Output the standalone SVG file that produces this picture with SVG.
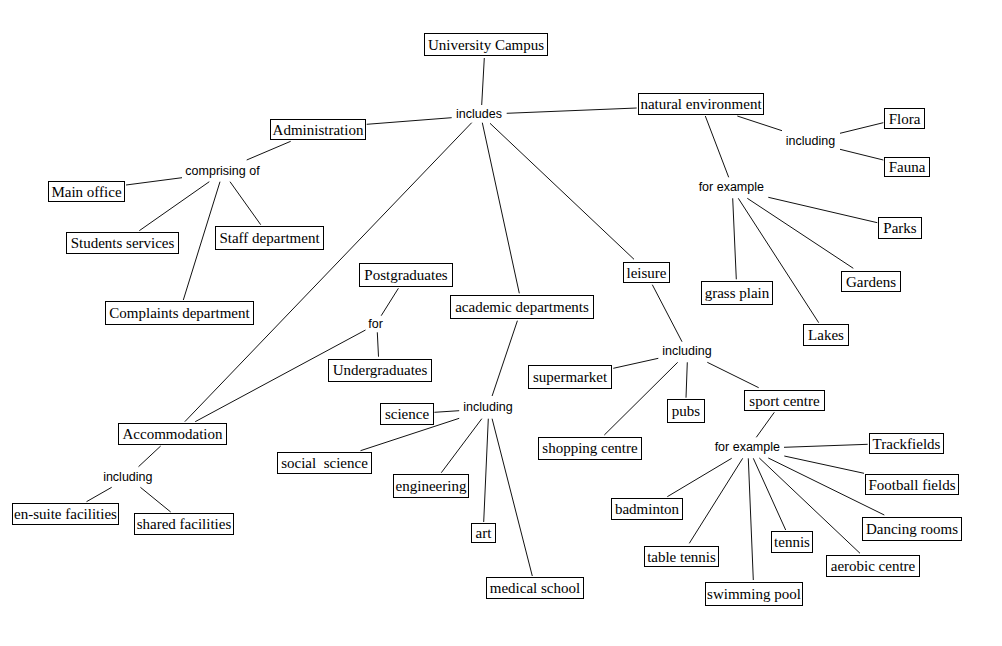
<svg xmlns="http://www.w3.org/2000/svg" width="1002" height="646" viewBox="0 0 1002 646">
<style>
.b rect{fill:#fff;stroke:#000;stroke-width:1}
.b text{font-family:"Liberation Serif","Times New Roman",serif;font-size:15px;fill:#000;text-anchor:middle}
.l text{font-family:"Liberation Sans",Arial,sans-serif;font-size:12.5px;fill:#000;text-anchor:middle}
#connectors line{stroke:#111;stroke-width:1}
</style>
<rect width="1002" height="646" fill="#fff"/>
<g id="connectors">
<line x1="484.3" y1="58" x2="481.7" y2="105"/>
<line x1="451.7" y1="117.7" x2="366.7" y2="124.3"/>
<line x1="506.7" y1="113.3" x2="636.7" y2="108"/>
<line x1="471.7" y1="122.7" x2="184.8" y2="421.7"/>
<line x1="482.3" y1="122.7" x2="519.3" y2="293.3"/>
<line x1="490" y1="123.3" x2="634" y2="259.3"/>
<line x1="290.7" y1="141.3" x2="246.7" y2="160"/>
<line x1="182" y1="177.7" x2="126" y2="185"/>
<line x1="209.3" y1="181.7" x2="139.3" y2="230.7"/>
<line x1="220" y1="181.7" x2="183.3" y2="300"/>
<line x1="230" y1="181.7" x2="260.7" y2="224.7"/>
<line x1="737.3" y1="116" x2="782" y2="130.7"/>
<line x1="840" y1="133.3" x2="883.3" y2="122.7"/>
<line x1="840" y1="149.3" x2="883.3" y2="160"/>
<line x1="705.3" y1="116" x2="728.7" y2="177.3"/>
<line x1="732.7" y1="198.3" x2="736.3" y2="279.3"/>
<line x1="738.3" y1="198.3" x2="818.7" y2="322.7"/>
<line x1="747.3" y1="198.3" x2="853.3" y2="268.3"/>
<line x1="768.3" y1="197.3" x2="877.3" y2="222.7"/>
<line x1="652.3" y1="284.7" x2="682" y2="341.7"/>
<line x1="658.3" y1="358.3" x2="613.3" y2="368.3"/>
<line x1="677.7" y1="362.3" x2="604.3" y2="435"/>
<line x1="687.3" y1="362.3" x2="686" y2="397.7"/>
<line x1="707.3" y1="362.3" x2="758.7" y2="387.7"/>
<line x1="774.3" y1="412.3" x2="756.3" y2="437.3"/>
<line x1="784" y1="447.3" x2="867.7" y2="444.3"/>
<line x1="784.3" y1="456" x2="864" y2="473.3"/>
<line x1="768.3" y1="458" x2="884.3" y2="515"/>
<line x1="759.3" y1="458" x2="860" y2="553.3"/>
<line x1="753.3" y1="458.3" x2="785.7" y2="530"/>
<line x1="748.3" y1="458.3" x2="753.3" y2="580"/>
<line x1="742.7" y1="458.3" x2="689.3" y2="543.3"/>
<line x1="731.7" y1="458.3" x2="667.3" y2="496.7"/>
<line x1="398.4" y1="288.3" x2="381.2" y2="315.7"/>
<line x1="377.3" y1="332.3" x2="378.5" y2="356.7"/>
<line x1="365.5" y1="330" x2="195.2" y2="421.7"/>
<line x1="160.7" y1="446" x2="138.5" y2="466.7"/>
<line x1="111.7" y1="487.3" x2="86.5" y2="501.7"/>
<line x1="140.4" y1="487.3" x2="170.7" y2="512"/>
<line x1="517.4" y1="320.7" x2="492.1" y2="396"/>
<line x1="434.4" y1="412.3" x2="459.2" y2="410.7"/>
<line x1="459.2" y1="418.3" x2="360.5" y2="450.7"/>
<line x1="481.8" y1="418.7" x2="441.3" y2="472.7"/>
<line x1="488.3" y1="418.7" x2="483.7" y2="522"/>
<line x1="492.1" y1="418.7" x2="532.3" y2="576"/>
</g>
<g class="l">
<g id="lbl-includes"><text x="479" y="117.5">includes</text></g>
<g id="lbl-comprising"><text x="222.5" y="174.5">comprising of</text></g>
<g id="lbl-ne-including"><text x="810.5" y="144.5">including</text></g>
<g id="lbl-ne-forexample"><text x="731.3" y="191.2">for example</text></g>
<g id="lbl-for"><text x="375.6" y="327.8">for</text></g>
<g id="lbl-acc-including"><text x="127.8" y="480.5">including</text></g>
<g id="lbl-acad-including"><text x="488" y="411.2">including</text></g>
<g id="lbl-leis-including"><text x="687" y="355.2">including</text></g>
<g id="lbl-sport-forexample"><text x="747.3" y="451.2">for example</text></g>
</g>
<g class="b">
<g id="n-campus"><rect x="424.5" y="33.5" width="123" height="22"/><text x="486" y="49.5">University Campus</text></g>
<g id="n-admin"><rect x="270.5" y="119.5" width="95" height="20"/><text x="318" y="134.5">Administration</text></g>
<g id="n-natural"><rect x="638.5" y="93.5" width="125" height="21"/><text x="701" y="108.5">natural environment</text></g>
<g id="n-mainoffice"><rect x="48.5" y="181.5" width="76" height="20"/><text x="86.5" y="196.5">Main office</text></g>
<g id="n-students"><rect x="66.5" y="232.5" width="112" height="21"/><text x="122.5" y="248">Students services</text></g>
<g id="n-staff"><rect x="215.5" y="226.5" width="108" height="23"/><text x="269.5" y="242.5">Staff department</text></g>
<g id="n-complaints"><rect x="105.5" y="301.5" width="148" height="23"/><text x="179.5" y="317.5">Complaints department</text></g>
<g id="n-postgrad"><rect x="359.5" y="263.5" width="93" height="23"/><text x="406" y="279.5">Postgraduates</text></g>
<g id="n-undergrad"><rect x="328.5" y="359.5" width="103" height="22"/><text x="380" y="375">Undergraduates</text></g>
<g id="n-academic"><rect x="450.5" y="295.5" width="143" height="23"/><text x="522" y="311.5">academic departments</text></g>
<g id="n-leisure"><rect x="623.5" y="262.5" width="46" height="20"/><text x="646.5" y="277.5">leisure</text></g>
<g id="n-flora"><rect x="884.5" y="108.5" width="40" height="20"/><text x="904.5" y="123.5">Flora</text></g>
<g id="n-fauna"><rect x="884.5" y="157.5" width="45" height="19"/><text x="907" y="172">Fauna</text></g>
<g id="n-parks"><rect x="878.5" y="217.5" width="43" height="21"/><text x="900" y="233">Parks</text></g>
<g id="n-gardens"><rect x="841.5" y="271.5" width="59" height="20"/><text x="871" y="286.5">Gardens</text></g>
<g id="n-grass"><rect x="701.5" y="281.5" width="71" height="23"/><text x="737" y="297.5">grass plain</text></g>
<g id="n-lakes"><rect x="803.5" y="324.5" width="45" height="21"/><text x="826" y="340">Lakes</text></g>
<g id="n-supermarket"><rect x="528.5" y="365.5" width="83" height="23"/><text x="570" y="381.5">supermarket</text></g>
<g id="n-shopping"><rect x="538.5" y="437.5" width="103" height="22"/><text x="590" y="453">shopping centre</text></g>
<g id="n-pubs"><rect x="667.5" y="399.5" width="37" height="23"/><text x="686" y="415.5">pubs</text></g>
<g id="n-sport"><rect x="744.5" y="390.5" width="80" height="20"/><text x="784.5" y="405.5">sport centre</text></g>
<g id="n-trackfields"><rect x="869.5" y="433.5" width="74" height="20"/><text x="906.5" y="448.5">Trackfields</text></g>
<g id="n-football"><rect x="865.5" y="474.5" width="93" height="20"/><text x="912" y="489.5">Football fields</text></g>
<g id="n-dancing"><rect x="862.5" y="517.5" width="99" height="23"/><text x="912" y="533.5">Dancing rooms</text></g>
<g id="n-aerobic"><rect x="826.5" y="555.5" width="93" height="21"/><text x="873" y="571">aerobic centre</text></g>
<g id="n-tennis"><rect x="771.5" y="531.5" width="41" height="21"/><text x="792" y="547">tennis</text></g>
<g id="n-swimming"><rect x="705.5" y="582.5" width="97" height="23"/><text x="754" y="598.5">swimming pool</text></g>
<g id="n-tabletennis"><rect x="644.5" y="546.5" width="74" height="20"/><text x="681.5" y="561.5">table tennis</text></g>
<g id="n-badminton"><rect x="611.5" y="498.5" width="71" height="21"/><text x="647" y="514">badminton</text></g>
<g id="n-accommodation"><rect x="118.5" y="423.5" width="108" height="21"/><text x="172.5" y="439">Accommodation</text></g>
<g id="n-ensuite"><rect x="12.5" y="503.5" width="106" height="21"/><text x="65.5" y="519">en-suite facilities</text></g>
<g id="n-shared"><rect x="134.5" y="513.5" width="99" height="21"/><text x="184" y="529">shared facilities</text></g>
<g id="n-science"><rect x="380.5" y="403.5" width="53" height="21"/><text x="407" y="419">science</text></g>
<g id="n-social"><rect x="277.5" y="452.5" width="94" height="21"/><text x="324.5" y="468">social&#160; science</text></g>
<g id="n-engineering"><rect x="393.5" y="474.5" width="75" height="23"/><text x="431" y="490.5">engineering</text></g>
<g id="n-art"><rect x="471.5" y="523.5" width="24" height="19"/><text x="483.5" y="538">art</text></g>
<g id="n-medical"><rect x="486.5" y="577.5" width="97" height="21"/><text x="535" y="593">medical school</text></g>
</g>
</svg>
